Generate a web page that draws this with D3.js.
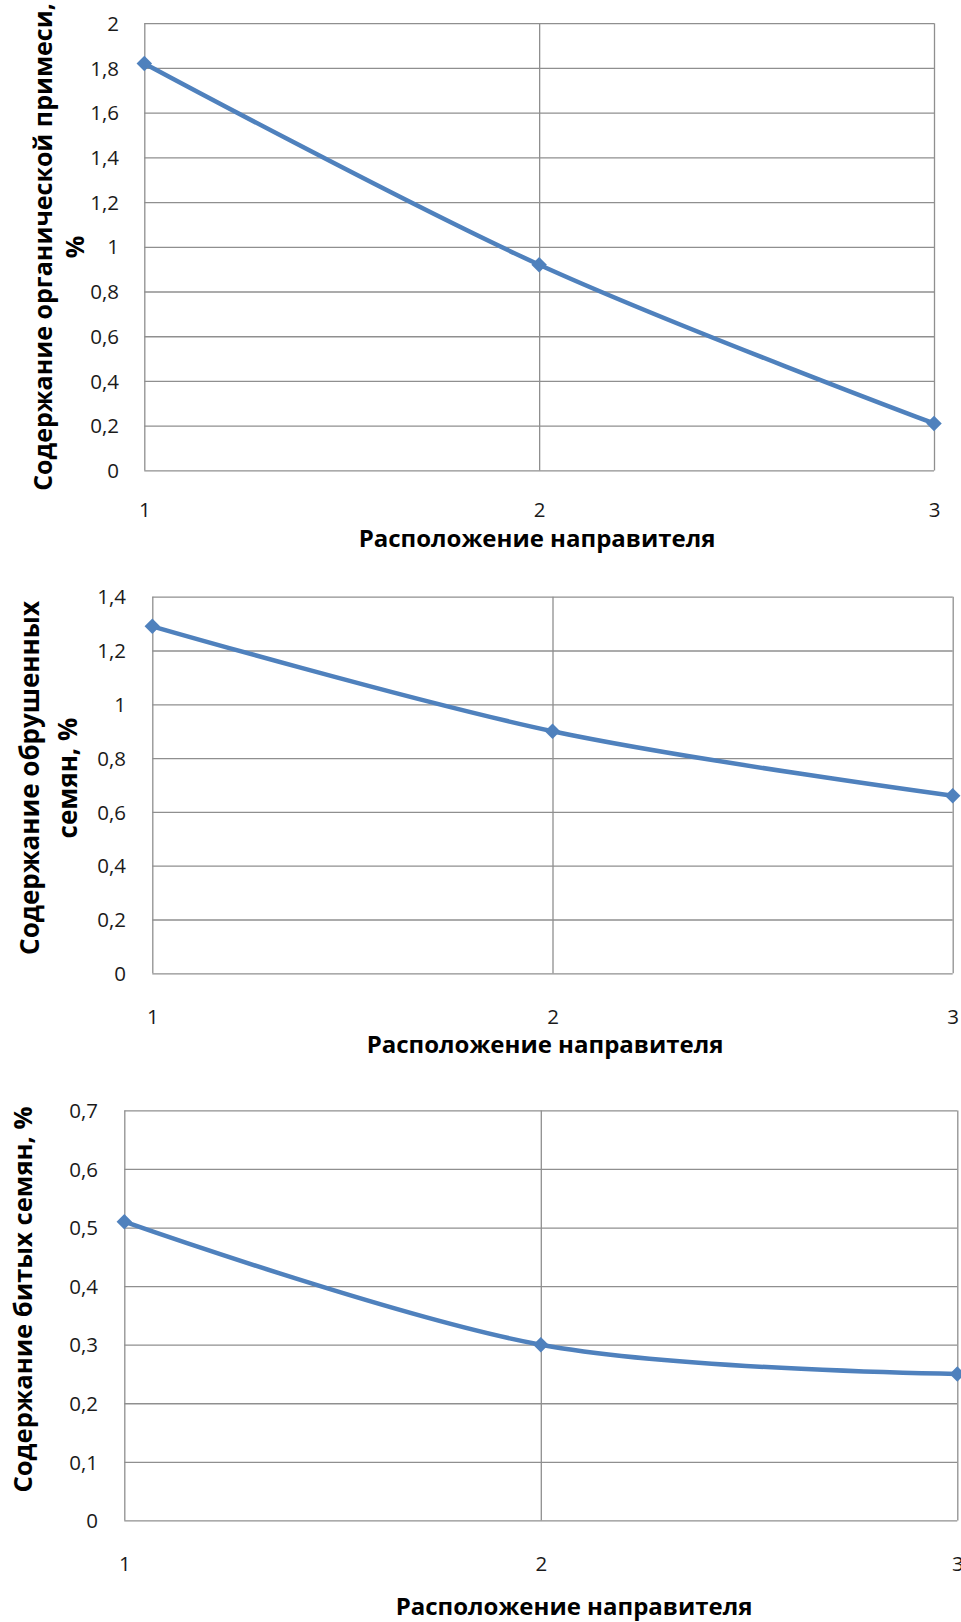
<!DOCTYPE html>
<html>
<head>
<meta charset="utf-8">
<script src="https://cdn.jsdelivr.net/npm/d3@7"></script>
<style>
  html, body { margin: 0; padding: 0; background: #fff; }
  svg { display: block; }
  text { font-family: "Open Sans", "Noto Sans", sans-serif; }
</style>
</head>
<body>
<svg id="chart" width="961" height="1622"></svg>
<script>
// ---- data ----
const categories = [1, 2, 3];
const organicImpurity = [1.82, 0.92, 0.21];
const huskedSeeds = [1.29, 0.90, 0.66];
const brokenSeeds = [0.51, 0.30, 0.25];

const yTicksOrganic = [0, 0.2, 0.4, 0.6, 0.8, 1, 1.2, 1.4, 1.6, 1.8, 2];
const yTicksHusked = [0, 0.2, 0.4, 0.6, 0.8, 1, 1.2, 1.4];
const yTicksBroken = [0, 0.1, 0.2, 0.3, 0.4, 0.5, 0.6, 0.7];

const xTitle = "Расположение направителя";
const yTitleOrganic = ["Содержание органической примеси,", "%"];
const yTitleHusked = ["Содержание обрушенных", "семян, %"];
const yTitleBroken = ["Содержание битых семян, %"];

// ---- layout (styles/positions only) ----
const panels = [
  { values: organicImpurity, ticks: yTicksOrganic, yTitle: yTitleOrganic,
    left: 144.3, right: 934, top: 23.2, bottom: 470.4,
    tickRight: 119, xTickY: 509.5, xTitleY: 538.5, xTitleX: 537,
    yTitleXs: [43, 75], yTitleY: 247, yTitleSize: 25 },
  { values: huskedSeeds, ticks: yTicksHusked, yTitle: yTitleHusked,
    left: 152.3, right: 952.7, top: 596.7, bottom: 973.3,
    tickRight: 126, xTickY: 1017, xTitleY: 1045, xTitleX: 545,
    yTitleXs: [30, 68], yTitleY: 778, yTitleSize: 26 },
  { values: brokenSeeds, ticks: yTicksBroken, yTitle: yTitleBroken,
    left: 124.3, right: 957.3, top: 1110.4, bottom: 1520.4,
    tickRight: 98, xTickY: 1564, xTitleY: 1606.5, xTitleX: 574,
    yTitleXs: [23], yTitleY: 1299.5, yTitleSize: 25.6 }
];

const fmt = d => String(d).replace(".", ",");
const svg = d3.select("#chart");
const gridColor = "#8f8f8f";
const lineColor = "#4F81BD";

panels.forEach(p => {
  const g = svg.append("g");
  const x = d3.scalePoint().domain(categories).range([p.left, p.right]);
  const y = d3.scaleLinear().domain([0, d3.max(p.ticks)]).range([p.bottom, p.top]);

  // horizontal gridlines via axis
  const yGrid = g.append("g")
    .attr("transform", `translate(${p.left},0)`)
    .call(d3.axisLeft(y).tickValues(p.ticks).tickSize(-(p.right - p.left)).tickFormat(""));
  yGrid.select(".domain").remove();
  yGrid.selectAll("line").attr("stroke", gridColor).attr("stroke-width", 1.3);

  // vertical gridlines via axis
  const xGrid = g.append("g")
    .attr("transform", `translate(0,${p.bottom})`)
    .call(d3.axisBottom(x).tickSize(-(p.bottom - p.top)).tickFormat(""));
  xGrid.select(".domain").remove();
  xGrid.selectAll("line").attr("stroke", gridColor).attr("stroke-width", 1.3);

  // y tick labels via axis
  const yAx = g.append("g")
    .attr("transform", `translate(${p.tickRight},0)`)
    .call(d3.axisLeft(y).tickValues(p.ticks).tickSize(0).tickPadding(0).tickFormat(fmt));
  yAx.select(".domain").remove();
  yAx.selectAll("text")
    .attr("font-size", 20.5)
    .attr("fill", "#1a1a1a")
    .attr("dy", "0.35em")
    .style("font-family", "'Open Sans', sans-serif");

  // x tick labels via axis
  const xAx = g.append("g")
    .attr("transform", `translate(0,${p.xTickY})`)
    .call(d3.axisBottom(x).tickSize(0).tickPadding(0));
  xAx.select(".domain").remove();
  xAx.selectAll("text")
    .attr("y", 0)
    .attr("dy", "0.35em")
    .attr("font-size", 20.5)
    .attr("fill", "#1a1a1a")
    .style("font-family", "'Open Sans', sans-serif");

  // x axis title
  g.append("text")
    .attr("x", p.xTitleX).attr("y", p.xTitleY)
    .attr("dy", "0.35em")
    .attr("text-anchor", "middle")
    .attr("font-size", 24)
    .attr("font-weight", "bold")
    .attr("fill", "#000")
    .text(xTitle);

  // y axis title (rotated)
  p.yTitle.forEach((line, i) => {
    g.append("text")
      .attr("transform", `translate(${p.yTitleXs[i]},${p.yTitleY}) rotate(-90)`)
      .attr("dy", "0.35em")
      .attr("text-anchor", "middle")
      .attr("font-size", p.yTitleSize)
      .attr("font-weight", "bold")
      .attr("fill", "#000")
      .text(line);
  });

  // data line
  const data = categories.map((c, i) => ({ c, v: p.values[i] }));
  g.append("path")
    .datum(data)
    .attr("fill", "none")
    .attr("stroke", lineColor)
    .attr("stroke-width", 4.5)
    .attr("stroke-linejoin", "round")
    .attr("d", d3.line().x(d => x(d.c)).y(d => y(d.v)).curve(d3.curveCatmullRom.alpha(0)));

  // diamond markers
  g.selectAll(".mk")
    .data(data)
    .enter().append("path")
    .attr("class", "mk")
    .attr("d", d3.symbol().type(d3.symbolSquare).size(120))
    .attr("transform", d => `translate(${x(d.c)},${y(d.v)}) rotate(45)`)
    .attr("fill", lineColor);
});
</script>
</body>
</html>
